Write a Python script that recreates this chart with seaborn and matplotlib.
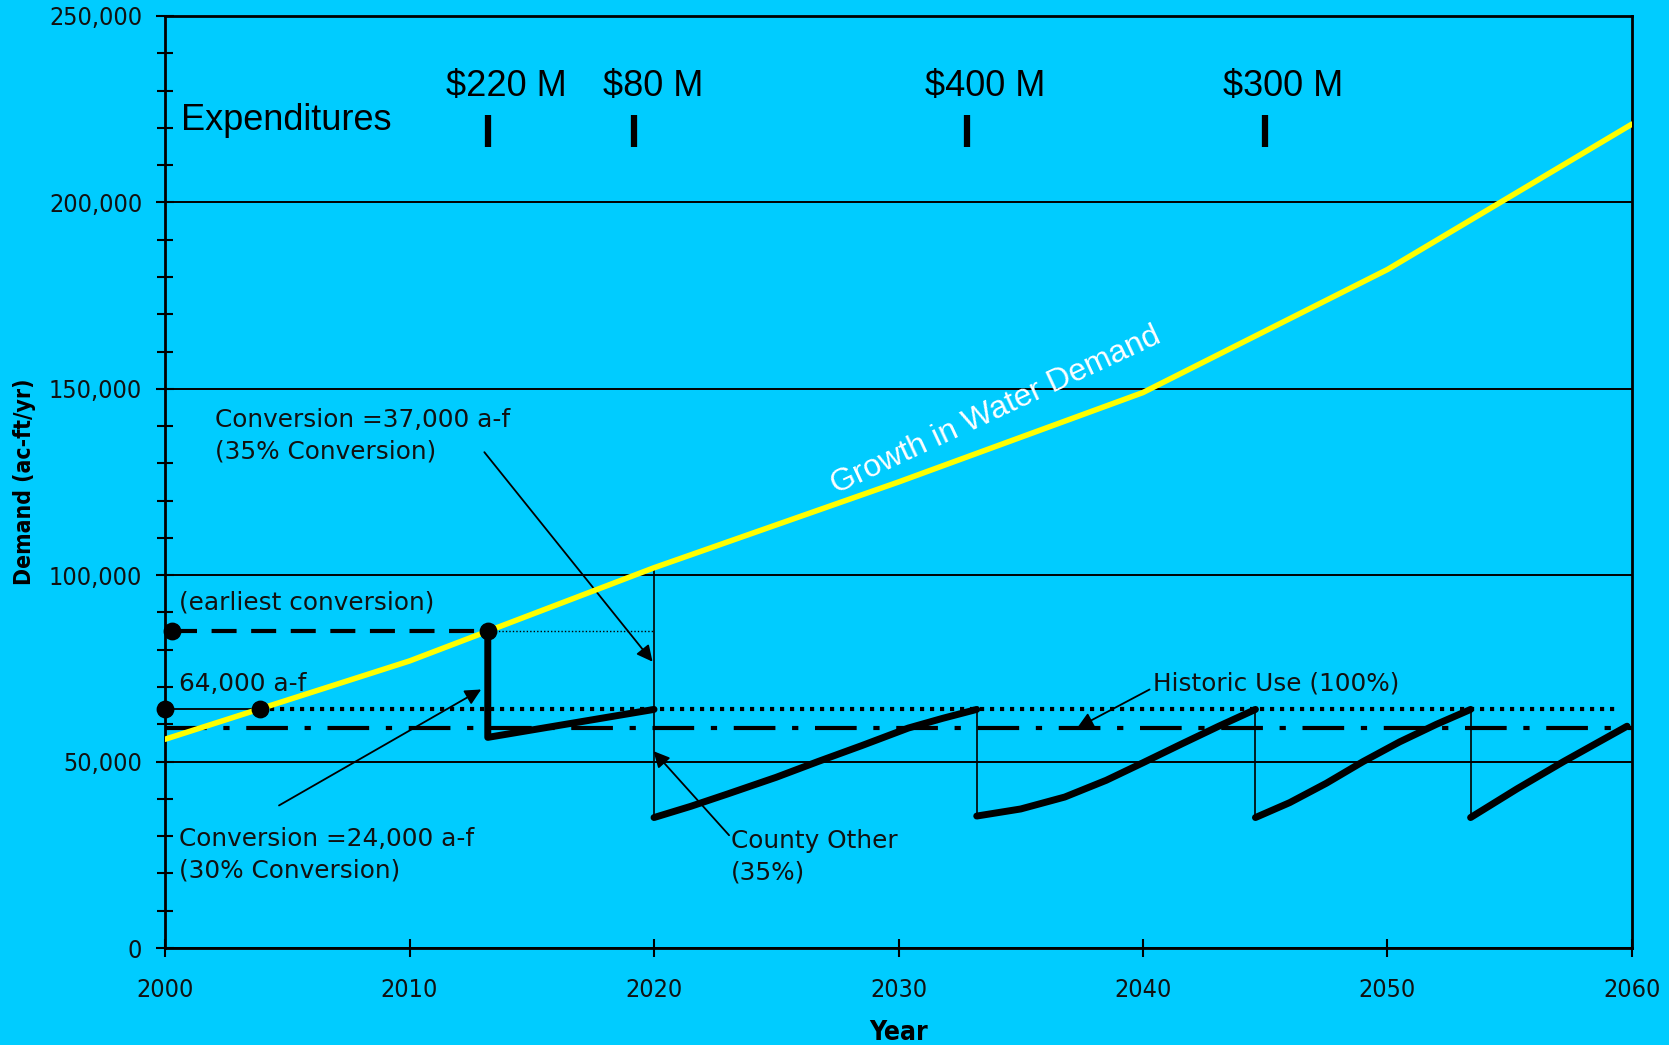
import numpy as np
import pandas as pd
import seaborn as sns
import matplotlib
matplotlib.use("Agg")
import matplotlib.pyplot as plt
from matplotlib import font_manager
from matplotlib.ticker import MultipleLocator, FuncFormatter

# ---- data ---------------------------------------------------------------
# projected total water demand (ac-ft/yr)
demand_years = [2000, 2010, 2020, 2030, 2040, 2050, 2060]
demand_values = [56000, 77000, 102000, 125000, 149000, 182000, 221000]

# County Other supply path (sawtooth): each cycle grows until the 64,000 a-f cap
seg1_years = [2013.2, 2013.2, 2020.0]
seg1_values = [85000, 56500, 64000]
seg2_years = [2020.0, 2021.5, 2023.0, 2025.0, 2026.7, 2028.5, 2030.4, 2031.8, 2033.2]
seg2_values = [35000, 38000, 41300, 45800, 50000, 54300, 59000, 61600, 64000]
seg3_years = [2033.2, 2035.0, 2036.8, 2038.5, 2040.0, 2041.6, 2043.1, 2044.6]
seg3_values = [35400, 37300, 40500, 45000, 49700, 54800, 59500, 64000]
seg4_years = [2044.6, 2046.0, 2047.5, 2049.0, 2050.5, 2052.0, 2053.4]
seg4_values = [35000, 39000, 44200, 50000, 55300, 60000, 64000]
seg5_years = [2053.4, 2055.3, 2057.2, 2059.8]
seg5_values = [35000, 42700, 50000, 59500]

# thin drops at each conversion
drop_years = [2020.0, 2033.2, 2044.6, 2053.4]
drop_low = [35000, 35400, 35000, 35000]
drop_high = [102000, 64000, 64000, 64000]

earliest_level = 85000
earliest_start, earliest_year = 2000.3, 2013.2
cap_level = 64000
cap_start, cap_cross, cap_end = 2000.0, 2003.9, 2059.3
historic_level = 59000

# expenditures
exp_years = [2013.2, 2019.2, 2032.8, 2045.0]
exp_labels = ["$220 M", "$80 M", "$400 M", "$300 M"]

BG = "#00CCFF"

sns.set_theme(style="white", rc={"axes.facecolor": BG, "figure.facecolor": BG})
plt.rcParams["font.family"] = ["DejaVu Sans"]
plt.rcParams.update({"text.color": "black", "axes.labelcolor": "black",
                     "xtick.color": "black", "ytick.color": "black"})

# narrow face for the axis numbers, if one is available
fonts = font_manager.fontManager.ttflist
if any(f.name == "Liberation Sans Narrow" for f in fonts):
    tick_family, tick_stretch, tick_size = "Liberation Sans Narrow", "normal", 19
elif any(f.name == "DejaVu Sans" and f.stretch == "condensed" for f in fonts):
    tick_family, tick_stretch, tick_size = "DejaVu Sans", "condensed", 18
else:
    tick_family, tick_stretch, tick_size = "DejaVu Sans", "normal", 16.5
arial = "Liberation Sans"

fig = plt.figure(figsize=(16.69, 10.45), dpi=100)
ax = fig.add_axes([0.0989, 0.0928, 0.8789, 0.8919])
ax.set_facecolor(BG)

def line(xs, ys, **kw):
    sns.lineplot(x=xs, y=ys, ax=ax, sort=False, estimator=None, **kw)

# growth in water demand
line(demand_years, demand_values, color="#FFFF00", lw=4, zorder=4)

# reference levels
line([2000, 2060], [historic_level, historic_level], color="black", lw=3,
     dashes=(10, 4, 1.5, 4), zorder=3)
line([earliest_start, earliest_year], [earliest_level, earliest_level],
     color="black", lw=3, dashes=(6, 3.5), zorder=3)
line([earliest_year, 2020.0], [earliest_level, earliest_level],
     color="black", lw=1, dashes=(1, 1.5), zorder=3)
line([cap_start, cap_cross], [cap_level, cap_level], color="black", lw=1.3, zorder=3)
line([cap_cross, cap_end], [cap_level, cap_level], color="black", lw=3,
     dashes=(1, 1.4), zorder=3)

# County Other sawtooth
for xs, ys in [(seg1_years, seg1_values), (seg2_years, seg2_values),
               (seg3_years, seg3_values), (seg4_years, seg4_values),
               (seg5_years, seg5_values)]:
    line(xs, ys, color="black", lw=5, zorder=5)
ax.vlines(drop_years, drop_low, drop_high, colors="black", lw=1.2, zorder=3)

# marker dots
ax.scatter([earliest_start, earliest_year, cap_start, cap_cross],
           [earliest_level, earliest_level, cap_level, cap_level],
           s=140, color="black", zorder=6, clip_on=False)

# axes
ax.set_xlim(2000, 2060)
ax.set_ylim(0, 250000)
ax.xaxis.set_major_locator(MultipleLocator(10))
ax.yaxis.set_major_locator(MultipleLocator(50000))
ax.yaxis.set_minor_locator(MultipleLocator(10000))
ax.yaxis.set_major_formatter(FuncFormatter(lambda v, p: f"{int(v):,}"))
ax.grid(axis="y", which="major", color="black", lw=1.4)
ax.set_axisbelow(True)
for s in ax.spines.values():
    s.set_color("black")
    s.set_linewidth(2)
ax.tick_params(axis="both", which="both", direction="inout", color="black",
               left=True, bottom=True)
ax.tick_params(axis="y", which="major", length=13, width=1.5, pad=10)
ax.tick_params(axis="y", which="minor", length=12, width=1.5)
ax.tick_params(axis="x", which="major", length=13, width=1.5, pad=15)
for lab in ax.get_xticklabels() + ax.get_yticklabels():
    lab.set_fontfamily(tick_family)
    lab.set_fontstretch(tick_stretch)
    lab.set_fontsize(tick_size)
    lab.set_color("#111111")

ax.set_xlabel("Year", family=tick_family, stretch=tick_stretch, size=19,
              weight="bold", labelpad=13)
ax.set_ylabel("Demand (ac-ft/yr)", family=tick_family, stretch=tick_stretch,
              size=16.5, weight="bold", labelpad=9)

# expenditures
ax.text(2000.65, 219500, "Expenditures", family=arial, size=26, va="baseline")
ax.vlines(exp_years, 214900, 223400, colors="black", lw=4.5)
for yr, lab in zip(exp_years, exp_labels):
    ax.text(yr + 0.75, 228500, lab, family=arial, size=26, ha="center", va="baseline")

ax.text(2034.0, 144100, "Growth in Water Demand", family=arial, size=23,
        color="white", rotation=25, ha="center", va="center", rotation_mode="anchor")

# annotations
txt = dict(size=17.8, color="#111111", va="center")
ax.text(2000.57, 92750, "(earliest conversion)", **txt)
ax.text(2000.57, 70800, "64,000 a-f", **txt)
ax.text(2002.05, 137300, "Conversion =37,000 a-f\n(35% Conversion)", linespacing=1.4, **txt)
ax.text(2000.57, 25100, "Conversion =24,000 a-f\n(30% Conversion)", linespacing=1.4, **txt)
ax.text(2023.16, 24550, "County Other\n(35%)", linespacing=1.4, **txt)
ax.text(2040.4, 71060, "Historic Use (100%)", **txt)

arrow = dict(arrowstyle="-|>", color="black", lw=1.3, mutation_scale=24,
             shrinkA=0, shrinkB=0)
ax.annotate("", xy=(2019.94, 76800), xytext=(2013.06, 133000), arrowprops=arrow)
ax.annotate("", xy=(2012.93, 69350), xytext=(2004.66, 38240), arrowprops=arrow)
ax.annotate("", xy=(2019.98, 52800), xytext=(2023.07, 30250), arrowprops=arrow)
ax.annotate("", xy=(2037.31, 59075), xytext=(2040.27, 69350), arrowprops=arrow)

fig.savefig("out.png", dpi=100, facecolor=BG)
